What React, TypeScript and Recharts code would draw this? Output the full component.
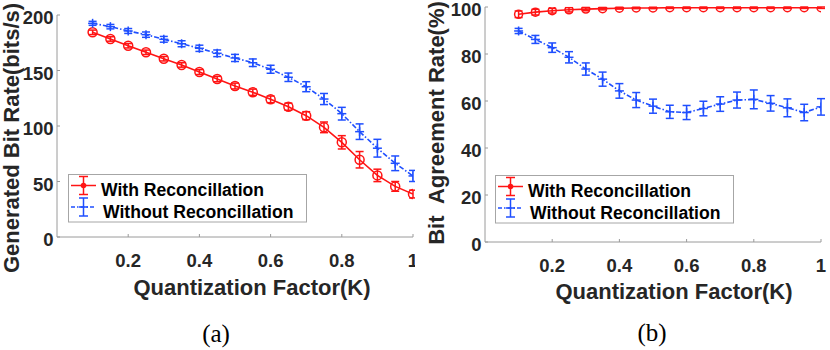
import React from "react";
import { LineChart, Line, XAxis, YAxis, ErrorBar, Legend } from "recharts";

// quantization factor K
const kValues = [0.1, 0.15, 0.2, 0.25, 0.3, 0.35, 0.4, 0.45, 0.5, 0.55, 0.6, 0.65, 0.7, 0.75, 0.8, 0.85, 0.9, 0.95, 1.0];

// (a) generated bit rate
const rateWith = [184.4, 178.4, 172.3, 166.4, 160.6, 155, 148.6, 142.3, 136, 130.4, 124, 117.4, 109.3, 98.8, 85.3, 69.6, 55.5, 45.6, 38.7];
const rateWithErr = [2, 2, 2, 2, 2, 2, 2.2, 2.4, 2.6, 2.8, 3, 3.2, 3.6, 4.8, 6, 7.4, 5.6, 4.4, 3.5];
const rateWithout = [192.5, 189.5, 185.6, 182.3, 178.1, 174.1, 170, 165.5, 161.3, 157, 151.1, 143.9, 135.4, 124.3, 111.1, 94.9, 80, 66.4, 55];
const rateWithoutErr = [1.8, 2, 2.2, 2.4, 2.6, 2.7, 2.8, 3, 3.2, 3.4, 3.6, 3.8, 4.5, 5, 5.7, 7, 8, 6.6, 5];

// (b) bit agreement rate
const agreeWith = [96.9, 97.8, 98.4, 98.8, 99.1, 99.3, 99.5, 99.6, 99.6, 99.7, 99.7, 99.7, 99.7, 99.7, 99.7, 99.7, 99.7, 99.7, 99.7];
const agreeWithErr = [1.4, 1.2, 1, 0.9, 0.7, 0.5, 0.4, 0.3, 0.3, 0.3, 0.3, 0.3, 0.3, 0.3, 0.3, 0.3, 0.3, 0.3, 0.3];
const agreeWithout = [89.8, 86.2, 82.7, 78.6, 73.6, 69.3, 64.3, 60.4, 57.8, 55.4, 55.1, 56.8, 58.7, 60.4, 60.7, 59, 57.1, 55.1, 57.5];
const agreeWithoutErr = [1.1, 1.7, 2, 2.4, 2.6, 3, 3.1, 3.2, 3, 2.8, 3, 3.1, 3.1, 3.4, 4, 3.3, 3.8, 3.5, 3.5];

const xTicks = [0.2, 0.4, 0.6, 0.8, 1];
const rateTicks = [0, 50, 100, 150, 200];
const agreeTicks = [0, 20, 40, 60, 80, 100];

const RED = "#ff1414";
const BLUE = "#1f4fff";
const AXIS = "#9a9a9a";
const TEXT = "#262626";
const FONT = "'Liberation Sans', Arial, sans-serif";

const rateData = kValues.map((k, i) => ({
  k,
  with: rateWith[i],
  withErr: rateWithErr[i],
  without: rateWithout[i],
  withoutErr: rateWithoutErr[i],
}));

const agreeData = kValues.map((k, i) => ({
  k,
  with: agreeWith[i],
  withErr: agreeWithErr[i],
  without: agreeWithout[i],
  withoutErr: agreeWithoutErr[i],
}));

const XTick = (props: any) => {
  const { x, y, payload } = props;
  return (
    <g>
      <line x1={x} x2={x} y1={y} y2={y - 3} stroke={AXIS} />
      <text x={x} y={y + 30} textAnchor="middle" fontSize={18.5} fontWeight="bold" fontFamily={FONT} fill={TEXT}>
        {payload.value}
      </text>
    </g>
  );
};

const YTick = (props: any) => {
  const { x, y, payload } = props;
  return (
    <g>
      <line x1={x} x2={x + 3} y1={y} y2={y} stroke={AXIS} />
      <text x={x - 3.5} y={y + 9} textAnchor="end" fontSize={18.5} fontWeight="bold" fontFamily={FONT} fill={TEXT}>
        {payload.value}
      </text>
    </g>
  );
};

const circleDot = (r: number) => (props: any) => {
  const { cx, cy, index } = props;
  return <circle key={index} cx={cx} cy={cy} r={r} fill="none" stroke={RED} strokeWidth={1.5} />;
};

const plusDot = (props: any) => {
  const { cx, cy, index } = props;
  return (
    <g key={index}>
      <line x1={cx - 4.5} x2={cx + 4.5} y1={cy} y2={cy} stroke={BLUE} strokeWidth={1.5} />
      <line x1={cx} x2={cx} y1={cy - 4.5} y2={cy + 4.5} stroke={BLUE} strokeWidth={1.5} />
    </g>
  );
};

// legend rows: [line y, text x, text baseline]
const legendRows = [
  [11.5, 33, 21.5],
  [33, 35, 43.5],
];

const LegendBox = (props: any) => {
  const { payload = [] } = props;
  return (
    <svg width={240} height={49} style={{ display: "block", overflow: "visible" }}>
      <rect x={0.5} y={0.5} width={238} height={47.5} fill="#fff" stroke="#a6a6a6" />
      {payload.map((entry: any, i: number) => {
        const [cy, tx, ty] = legendRows[i] || legendRows[0];
        const c = entry.color;
        return (
          <g key={entry.value}>
            <line x1={3} x2={28} y1={cy} y2={cy} stroke={c} strokeWidth={1.5} strokeDasharray={i === 0 ? undefined : "4 2 1.5 2"} />
            <line x1={15.5} x2={15.5} y1={cy - 9} y2={cy + 9} stroke={c} strokeWidth={1.5} />
            <line x1={11} x2={20} y1={cy - 9} y2={cy - 9} stroke={c} strokeWidth={1.5} />
            <line x1={11} x2={20} y1={cy + 9} y2={cy + 9} stroke={c} strokeWidth={1.5} />
            {i === 0 ? (
              <circle cx={15.5} cy={cy} r={2.8} fill={c} />
            ) : (
              <line x1={11} x2={20} y1={cy} y2={cy} stroke={c} strokeWidth={1.5} />
            )}
            <text x={tx} y={ty} fontSize={17.6} fontWeight="bold" fontFamily={FONT} fill="#000">
              {entry.value}
            </text>
          </g>
        );
      })}
    </svg>
  );
};

interface PanelProps {
  data: any[];
  domain: [number, number];
  ticks: number[];
  top: number;
  right: number;
  yWidth: number;
  xHeight: number;
  dotR: number;
  legendLeft: number;
  legendTop: number;
}

const Panel: React.FC<PanelProps> = ({ data, domain, ticks, top, right, yWidth, xHeight, dotR, legendLeft, legendTop }) => (
  <LineChart width={415} height={350} data={data} margin={{ top, right, left: 0, bottom: 0 }}>
    <XAxis
      type="number"
      dataKey="k"
      domain={[0, 1]}
      ticks={xTicks}
      allowDataOverflow
      height={xHeight}
      tickSize={0}
      tickMargin={0}
      tickLine={false}
      axisLine={{ stroke: AXIS }}
      tick={<XTick />}
      interval={0}
    />
    <YAxis
      type="number"
      domain={domain}
      ticks={ticks}
      allowDataOverflow
      width={yWidth}
      tickSize={0}
      tickMargin={0}
      tickLine={false}
      axisLine={{ stroke: AXIS }}
      tick={<YTick />}
      interval={0}
    />
    <Legend
      layout="horizontal"
      verticalAlign="middle"
      align="center"
      content={<LegendBox />}
      wrapperStyle={{ left: legendLeft, top: legendTop, width: 240, height: 49 }}
    />
    <Line
      type="linear"
      dataKey="with"
      name="With Reconcillation"
      stroke={RED}
      strokeWidth={1.6}
      dot={circleDot(dotR)}
      isAnimationActive={false}
    >
      <ErrorBar dataKey="withErr" width={4} stroke={RED} strokeWidth={1.5} direction="y" />
    </Line>
    <Line
      type="linear"
      dataKey="without"
      name="Without Reconcillation"
      stroke={BLUE}
      strokeWidth={1.6}
      strokeDasharray="5 2 1.5 2"
      dot={plusDot}
      isAnimationActive={false}
    >
      <ErrorBar dataKey="withoutErr" width={4} stroke={BLUE} strokeWidth={1.5} direction="y" />
    </Line>
  </LineChart>
);

const labelStyle: React.CSSProperties = {
  position: "absolute",
  fontFamily: FONT,
  fontWeight: "bold",
  fontSize: 22,
  color: TEXT,
  whiteSpace: "pre",
  lineHeight: 1,
  transform: "translate(-50%, -50%)",
};

const captionStyle: React.CSSProperties = {
  position: "absolute",
  fontFamily: "'Liberation Serif', 'Times New Roman', serif",
  fontSize: 25,
  color: "#000",
  lineHeight: 1,
  transform: "translate(-50%, -50%)",
};

export default function App() {
  return (
    <div style={{ position: "absolute", left: 0, top: 0, width: 830, height: 350, background: "#fff", overflow: "hidden" }}>
      <div style={{ position: "absolute", left: 0, top: 0 }}>
        <Panel
          data={rateData}
          domain={[0, 200]}
          ticks={rateTicks}
          top={15}
          right={2}
          yWidth={57}
          xHeight={113}
          dotR={4.5}
          legendLeft={68}
          legendTop={174}
        />
      </div>
      <div style={{ position: "absolute", left: 415, top: 0 }}>
        <Panel
          data={agreeData}
          domain={[0, 100]}
          ticks={agreeTicks}
          top={7}
          right={9}
          yWidth={70}
          xHeight={108}
          dotR={4}
          legendLeft={80}
          legendTop={175}
        />
      </div>
      <div style={{ ...labelStyle, left: 252, top: 288 }}>Quantization Factor(K)</div>
      <div style={{ ...labelStyle, left: 674, top: 292 }}>Quantization Factor(K)</div>
      <div style={{ ...labelStyle, left: 12, top: 138, transform: "translate(-50%, -50%) rotate(-90deg)" }}>
        Generated Bit Rate(bits/s)
      </div>
      <div style={{ ...labelStyle, left: 437, top: 123, transform: "translate(-50%, -50%) rotate(-90deg)" }}>
        {"Bit  Agreement Rate(%)"}
      </div>
      <div style={{ ...captionStyle, left: 216, top: 333 }}>(a)</div>
      <div style={{ ...captionStyle, left: 652, top: 332 }}>(b)</div>
    </div>
  );
}
